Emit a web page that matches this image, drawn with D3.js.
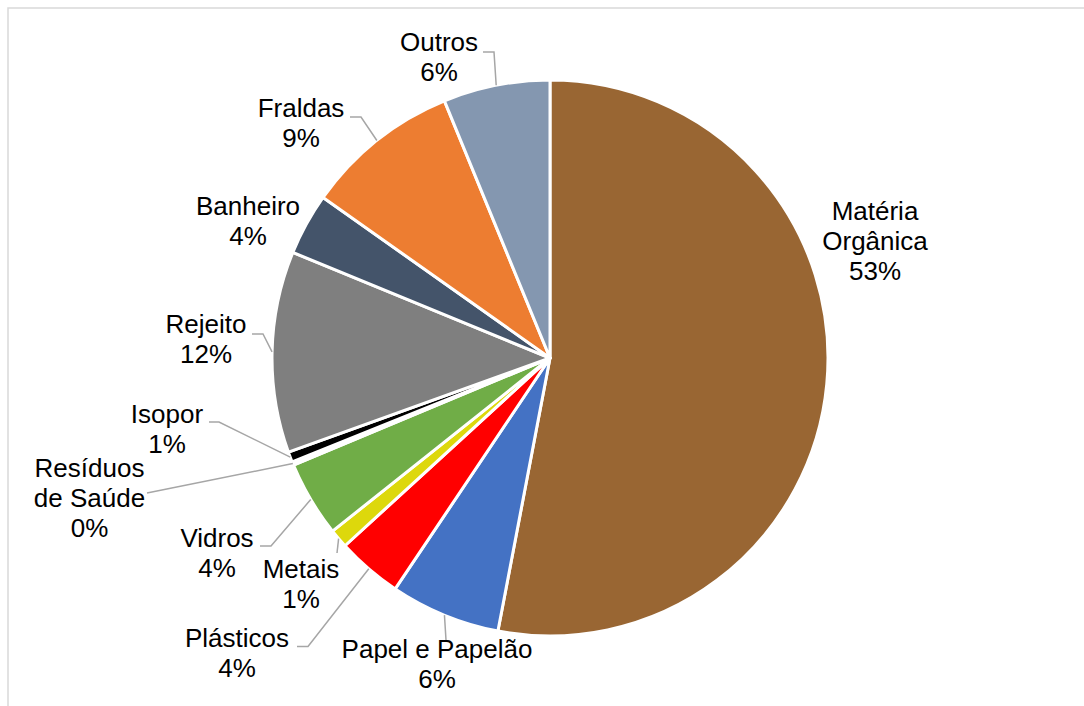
<!DOCTYPE html>
<html>
<head>
<meta charset="utf-8">
<script src="https://cdn.jsdelivr.net/npm/d3@7"></script>
<style>
  html, body { margin: 0; padding: 0; background: #fff; }
  text { font-family: "Liberation Sans", Arial, sans-serif; }
</style>
</head>
<body>
<div id="chart"></div>
<script>
// Dados (valores em %)
const categories = ["Matéria Orgânica", "Papel e Papelão", "Plásticos", "Metais", "Vidros",
    "Resíduos de Saúde", "Isopor", "Rejeito", "Banheiro", "Fraldas", "Outros"];
const values = [53.0, 6.4, 3.8, 1.1, 4.4, 0.2, 0.6, 11.7, 3.6, 9.0, 6.2];
const colors = ["#996633", "#4472C4", "#FF0000", "#DDD80C", "#70AD47",
    "#FFFFFF", "#000000", "#7F7F7F", "#44546A", "#ED7D31", "#8497B0"];
const labelLines = [["Matéria", "Orgânica"], ["Papel e Papelão"], ["Plásticos"], ["Metais"], ["Vidros"],
    ["Resíduos", "de Saúde"], ["Isopor"], ["Rejeito"], ["Banheiro"], ["Fraldas"], ["Outros"]];

// Posição dos rótulos (centro x, linha de base y) e pontos da linha guia
const labelPos = [
    { x: 875, y: 220, leader: null },
    { x: 437, y: 658, leader: [[446, 640]] },
    { x: 237, y: 647, leader: [[308, 646.5], [297, 646.5]] },
    { x: 301, y: 578, leader: [[337, 553]] },
    { x: 217, y: 547, leader: [[271, 546], [260, 546]] },
    { x: 89.5, y: 477, leader: [[147, 493]] },
    { x: 167, y: 423, leader: [[219, 422], [209, 422]] },
    { x: 206, y: 333, leader: [[263, 334], [252, 334]] },
    { x: 248, y: 215, leader: null },
    { x: 301, y: 117, leader: [[361, 117], [350, 117]] },
    { x: 439, y: 51, leader: [[494, 52], [483, 52]] }
];

const width = 1084, height = 706;
const cx = 550, cy = 358, radius = 278;
const fontSize = 26, lineHeight = 30;

const svg = d3.select("#chart")
    .append("svg")
    .attr("width", width)
    .attr("height", height);

// Borda do gráfico
svg.append("rect")
    .attr("x", 8)
    .attr("y", 8)
    .attr("width", 1200)
    .attr("height", 800)
    .attr("fill", "none")
    .attr("stroke", "#D9D9D9")
    .attr("stroke-width", 1.5);

const data = categories.map((c, i) => ({ name: c, value: values[i], i }));
const total = d3.sum(values);

const pie = d3.pie().sort(null).value(d => d.value);
const arcs = pie(data);

const arc = d3.arc().innerRadius(0).outerRadius(radius);

const g = svg.append("g").attr("transform", `translate(${cx},${cy})`);

// Fatias
g.selectAll("path.slice")
    .data(arcs)
    .enter()
    .append("path")
    .attr("class", "slice")
    .attr("d", arc)
    .attr("fill", d => colors[d.data.i])
    .attr("stroke", "#fff")
    .attr("stroke-width", 3)
    .attr("stroke-linejoin", "round");

// Linhas guia: do meio do arco até o rótulo
const line = d3.line();
svg.selectAll("path.leader")
    .data(arcs.filter(d => labelPos[d.data.i].leader))
    .enter()
    .append("path")
    .attr("class", "leader")
    .attr("d", d => {
        const mid = (d.startAngle + d.endAngle) / 2;
        const start = [cx + radius * Math.sin(mid), cy - radius * Math.cos(mid)];
        return line([start, ...labelPos[d.data.i].leader]);
    })
    .attr("fill", "none")
    .attr("stroke", "#A6A6A6")
    .attr("stroke-width", 1.5);

// Rótulos
const labels = svg.selectAll("text.label")
    .data(arcs)
    .enter()
    .append("text")
    .attr("class", "label")
    .attr("text-anchor", "middle")
    .style("font-size", fontSize + "px")
    .attr("fill", "#000");

labels.each(function(d) {
    const pos = labelPos[d.data.i];
    const lines = labelLines[d.data.i].concat([Math.round(d.data.value / total * 100) + "%"]);
    d3.select(this).selectAll("tspan")
        .data(lines)
        .enter()
        .append("tspan")
        .attr("x", pos.x)
        .attr("y", (t, k) => pos.y + k * lineHeight)
        .text(t => t);
});
</script>
</body>
</html>
